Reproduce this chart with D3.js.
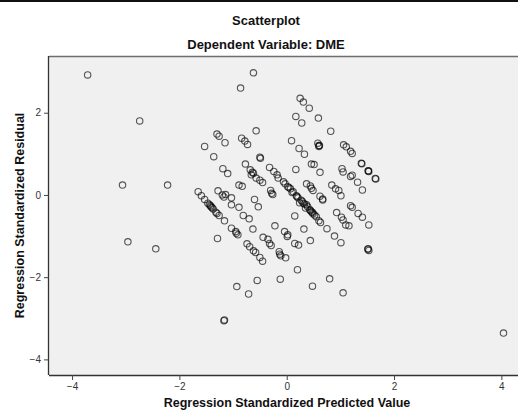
<!DOCTYPE html>
<html>
<head>
<meta charset="utf-8">
<script src="https://cdn.jsdelivr.net/npm/d3@7"></script>
<style>
  html, body { margin: 0; padding: 0; background: #fff; }
  svg { display: block; font-family: "Liberation Sans", Arial, sans-serif; }
</style>
</head>
<body>
<svg id="chart" width="518" height="412"></svg>
<script>
// Regression diagnostics: standardized predicted value vs standardized residual
const predicted = [
  -3.71, -2.74, -3.06, -2.96, -2.44, -2.22, -0.62, -0.86, 4.04, -1.17, -1.16,
  0.25, 0.31, 0.42, 0.17, 0.28, 0.59, 0.82, 0.09, 0.58, 0.60, 0.60, 0.61, 0.23, 0.33,
  1.06, 1.11, 1.19, 1.22, 1.39, 1.40, 1.52, 1.52, 1.53, 1.65, 1.66,
  0.46, 0.51, 0.62, 0.17, 1.03, 1.05, 1.19, 1.22, 1.32, 1.41,
  0.37, 0.44, 0.46, 0.49, 0.62, 0.67, 0.84, 0.91, 0.97, 1.01, 1.19, 1.22,
  -0.57, -1.30, -1.26, -1.15, -1.53, -0.84, -0.78, -0.73, -1.36, -0.50, -0.49,
  -1.19, -1.10, -0.77, -0.68, -0.64, -0.62, -0.66, -0.57, -0.50, -0.45,
  -0.89, -0.83, -0.30, -0.26, -0.28,
  -1.65, -1.59, -1.53, -1.47, -1.44, -1.41, -1.37, -1.32, -1.30, -1.26, -1.42, -1.39,
  -1.28, -1.20, -1.14, -1.17, -1.03, -1.03, -0.89, -0.60, -0.53,
  -0.81, -0.70, -1.16, -1.03, -0.95, -0.94, -0.91, -1.29, -0.63, -0.22,
  -0.74, -0.69, -0.62, -0.58, -0.50, -0.45, -0.44, -0.35, -0.32, -0.29,
  -0.14, -0.13, -0.11, -0.02,
  -0.93, -0.71, -0.55, -0.12, 0.20, 0.48, 0.80, 1.05,
  -0.32, -0.24, -0.18, -0.16, -0.06, 0.02, 0.07, 0.12, 0.18, 0.21, 0.27, 0.31,
  0.37, 0.39, 0.43, 0.46, 0.49, 0.52, 0.55,
  0.19, 0.29, 0.33, 0.44, 0.48, 0.04, -0.03, 0.10, 0.24, 0.35,
  0.15, 0.67, 0.60, 0.63, 0.93, 1.02, 1.05, 1.10, 1.16, 1.33, 1.41, 1.53,
  0.75, 0.32, -0.04, 0.02, 0.01, 0.15, 0.22, 0.44, 0.89, 1.01, 1.52, 1.51, 1.53
];
const residual = [
  2.92, 1.80, 0.24, -1.14, -1.31, 0.24, 2.97, 2.60, -3.36, -3.06, -3.04,
  2.35, 2.26, 2.11, 1.91, 1.75, 1.87, 1.55, 1.32, 1.26, 1.20, 1.18, 1.20, 1.13, 0.99,
  1.22, 1.17, 1.06, 1.01, 0.77, 0.76, 0.58, 0.59, 0.57, 0.40, 0.39,
  0.75, 0.74, 0.55, 0.62, 0.64, 0.56, 0.45, 0.48, 0.31, 0.12,
  0.27, 0.22, 0.16, 0.11, -0.03, -0.10, 0.24, 0.15, 0.11, -0.02, -0.26, -0.30,
  1.56, 1.48, 1.43, 1.27, 1.18, 1.38, 1.31, 1.23, 0.93, 0.92, 0.89,
  0.64, 0.52, 0.75, 0.61, 0.55, 0.53, 0.49, 0.41, 0.36, 0.30,
  0.24, 0.21, 0.11, 0.01, 0.04,
  0.08, -0.02, -0.11, -0.20, -0.24, -0.29, -0.34, -0.42, -0.45, -0.50, -0.26, -0.31,
  0.10, 0.00, 0.01, -0.05, -0.07, -0.24, -0.30, -0.11, -0.29,
  -0.50, -0.58, -0.63, -0.81, -0.89, -0.93, -0.97, -1.06, -0.83, -0.75,
  -1.19, -1.26, -1.36, -1.40, -1.52, -1.61, -1.03, -1.08, -1.18, -1.23,
  -1.38, -1.44, -1.48, -1.53,
  -2.23, -2.41, -2.08, -2.05, -1.82, -2.22, -2.04, -2.38,
  0.67, 0.57, 0.49, 0.41, 0.32, 0.20, 0.15, 0.08, -0.02, -0.07, -0.13, -0.20,
  -0.24, -0.29, -0.36, -0.41, -0.46, -0.49, -0.53,
  -0.04, -0.16, -0.22, -0.38, -0.43, 0.18, 0.27, 0.06, -0.19, -0.32,
  -0.51, -0.12, -0.63, -0.67, -0.43, -0.54, -0.61, -0.73, -0.75, -0.45, -0.54, -0.73,
  -0.82, -0.83, -0.89, -0.97, -1.01, -1.18, -1.22, -1.11, -1.00, -1.16, -1.31, -1.32, -1.35
];
const xTicks = [-4, -2, 0, 2, 4];
const yTicks = [-4, -2, 0, 2];

const titleText = "Scatterplot";
const subtitleText = "Dependent Variable: DME";
const xTitle = "Regression Standardized Predicted Value";
const yTitle = "Regression Standardized Residual";

const W = 518, H = 412;
const plot = { left: 49, right: 518, top: 56, bottom: 375 };

const svg = d3.select("#chart");

// thin black rule across the top edge
svg.append("rect").attr("x", 0).attr("y", 0).attr("width", W).attr("height", 2).attr("fill", "#111");

const x = d3.scaleLinear().domain([-4.43, 4.31]).range([plot.left, plot.right]);
const y = d3.scaleLinear().domain([-4.38, 3.38]).range([plot.bottom, plot.top]);

// plot background
svg.append("rect")
  .attr("x", plot.left).attr("y", plot.top)
  .attr("width", plot.right - plot.left).attr("height", plot.bottom - plot.top)
  .attr("fill", "#f0f0f0");
svg.append("line")
  .attr("x1", plot.left).attr("x2", plot.right)
  .attr("y1", plot.top + 0.5).attr("y2", plot.top + 0.5)
  .attr("stroke", "#6e6e6e").attr("stroke-width", 1.5);

// titles
svg.append("text").attr("x", 266).attr("y", 25).attr("text-anchor", "middle")
  .attr("font-size", 13).attr("font-weight", "bold").attr("fill", "#111").text(titleText);
svg.append("text").attr("x", 266).attr("y", 49).attr("text-anchor", "middle")
  .attr("font-size", 13).attr("font-weight", "bold").attr("fill", "#111").text(subtitleText);

// axes
const xAxis = d3.axisBottom(x).tickValues(xTicks).tickSize(5).tickPadding(3).tickFormat(d3.format("d"));
const yAxis = d3.axisLeft(y).tickValues(yTicks).tickSize(5).tickPadding(3).tickFormat(d3.format("d"));

const gx = svg.append("g").attr("transform", `translate(0,${plot.bottom})`).call(xAxis);
const gy = svg.append("g").attr("transform", `translate(${plot.left},0)`).call(yAxis);

[gx, gy].forEach(g => {
  g.select(".domain").attr("stroke", "#333").attr("stroke-width", 1.3);
  g.selectAll(".tick line").attr("stroke", "#444");
  g.selectAll(".tick text").attr("font-size", 10).attr("fill", "#333")
    .attr("font-family", "'Liberation Sans', Arial, sans-serif");
});
gx.select(".domain").attr("d", `M${plot.left},0.5H${plot.right}`);
gy.select(".domain").attr("d", `M-0.5,${plot.top}V${plot.bottom}`);

// axis titles
svg.append("text").attr("x", 287).attr("y", 407).attr("text-anchor", "middle")
  .attr("font-size", 12.5).attr("font-weight", "bold").attr("fill", "#111").text(xTitle);
svg.append("text")
  .attr("transform", `translate(24,${(plot.top + plot.bottom) / 2}) rotate(-90)`)
  .attr("text-anchor", "middle")
  .attr("font-size", 12.5).attr("font-weight", "bold").attr("fill", "#111").text(yTitle);

// points
const pts = predicted.map((p, i) => ({ p, r: residual[i] }));
svg.append("g").selectAll("circle").data(pts).join("circle")
  .attr("cx", d => x(d.p)).attr("cy", d => y(d.r)).attr("r", 3.2)
  .attr("fill", "none").attr("stroke", "#000").attr("stroke-opacity", 0.65).attr("stroke-width", 1.1);
</script>
</body>
</html>
